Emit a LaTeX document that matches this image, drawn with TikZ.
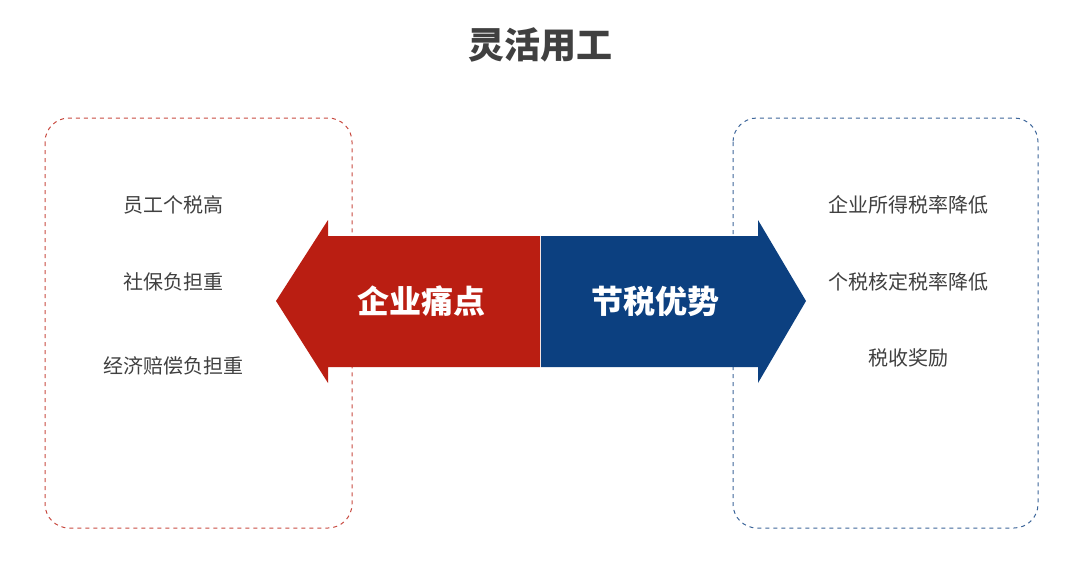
\documentclass[tikz,border=0pt]{standalone}
\usepackage{fontspec}
\setmainfont{Noto Sans CJK SC}
\definecolor{painred}{RGB}{186,30,18}
\definecolor{taxblue}{RGB}{12,64,128}
\definecolor{txtgray}{RGB}{64,64,64}
\tikzset{every picture/.style={line width=0.75pt}}
\tikzset{
  itemtext/.style={text=txtgray,font=\fontsize{15}{18}\selectfont},
  arrowtext/.style={text=white,font=\fontsize{24}{28}\selectfont\bfseries},
  sidebox/.style={dashed,rounded corners=18}
}
\begin{document}
\begin{tikzpicture}[x=0.75pt,y=0.75pt,yscale=-1,xscale=1]
	\useasboundingbox (0,0) rectangle (1080,564);
	
	% Title
	\node[text=txtgray,font=\fontsize{27}{32}\selectfont\bfseries] (title) at (540,45) {灵活用工};
	
	% side boxes
	\draw[sidebox,painred!80] (45,118) rectangle (352,528);
	\draw[sidebox,taxblue!80] (733,118) rectangle (1038,528);
	
	% double arrow
	\fill[painred] (540,236) -- (328,236) -- (328,220) -- (276,301) -- (328,383) -- (328,367) -- (540,367) -- cycle;
	\fill[taxblue] (541,236) -- (758,236) -- (758,220) -- (806,301) -- (758,383) -- (758,367) -- (541,367) -- cycle;
	
	\node[arrowtext] (pain) at (421,301) {企业痛点};
	\node[arrowtext] (gain) at (655,301) {节税优势};
	
	% left items
	\node[itemtext] (l1) at (173,205) {员工个税高};
	\node[itemtext] (l2) at (173,282) {社保负担重};
	\node[itemtext] (l3) at (173,366) {经济赔偿负担重};
	
	% right items
	\node[itemtext] (r1) at (908,205) {企业所得税率降低};
	\node[itemtext] (r2) at (908,282) {个税核定税率降低};
	\node[itemtext] (r3) at (908,358) {税收奖励};
	
\end{tikzpicture}
\end{document}
